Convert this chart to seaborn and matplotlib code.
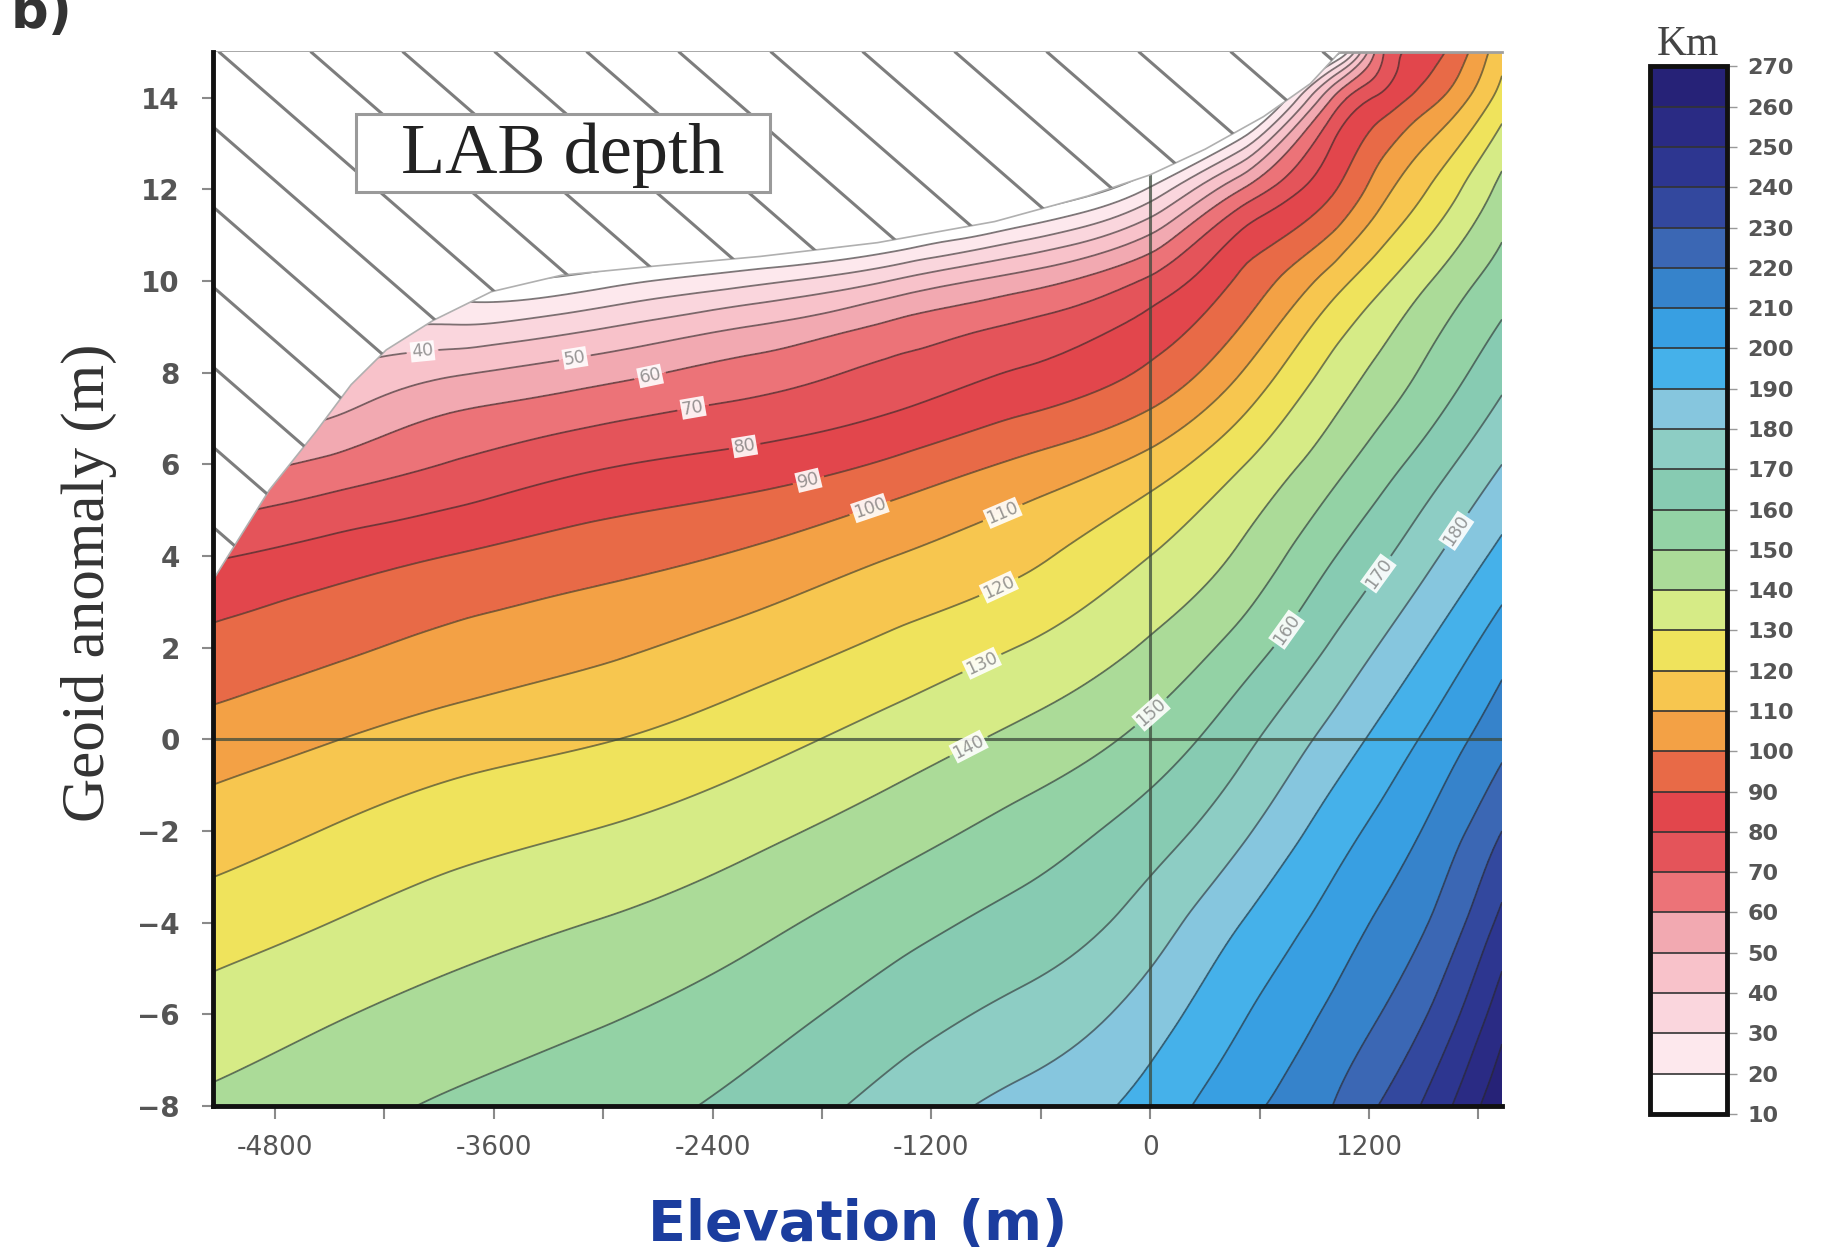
import numpy as np
import matplotlib
matplotlib.use("Agg")
import matplotlib.pyplot as plt
import matplotlib.tri as mtri
from matplotlib.colors import ListedColormap, BoundaryNorm
from matplotlib.patches import Polygon, Rectangle
from matplotlib.ticker import FixedLocator, MultipleLocator
import seaborn as sns

# ---------------- data ----------------
elevation = [-5140, -4500, -3800, -3000, -2200, -1400, -700, 0, 500, 1000, 1250, 1500, 1930]   # m
geoid = [-8, -6, -4, -2, 0, 2, 4, 6, 8, 10, 12, 14, 15]                                        # m
# LAB depth (km); one row per geoid value (values in the hatched "no solution" zone are below 10)
lab_row_m8 = [142, 146.5, 151.5, 156, 163, 174, 183, 194, 207, 220, 230, 241, 268]
lab_row_m6 = [134, 139, 144, 149, 155.5, 165, 173, 185, 199, 212, 219.6, 229, 256]
lab_row_m4 = [125, 130, 135.5, 140.5, 147, 156, 163.5, 175, 190, 204, 211.3, 219, 243]
lab_row_m2 = [115, 120.5, 126, 130.5, 137, 145.5, 154, 165, 178, 195, 202.6, 210.5, 230]
lab_row_0 = [104.5, 109.5, 115, 119.5, 126, 134.5, 142.5, 153.5, 167, 183.7, 192.4, 201, 217]
lab_row_2 = [93, 98, 103, 108, 114.5, 122.5, 130.5, 141.5, 154.3, 171.3, 180.3, 189.4, 206]
lab_row_4 = [79, 84.5, 90.5, 96, 101.5, 110, 117.5, 130, 141.8, 159.3, 167.6, 176.7, 193]
lab_row_6 = [54, 62.5, 71, 79, 84, 92, 102, 114, 129.3, 146.3, 155.2, 163.8, 180]
lab_row_8 = [29, 40, 49, 56.5, 64.5, 73, 81, 92, 110, 133.3, 142.5, 151.3, 167]
lab_row_10 = [5, 22, 12, 16, 27, 41, 55, 72, 92, 115, 127, 138.2, 155]
lab_row_12 = [-20, -8, -18, -30, -30, -25, -5, 21.7, 60, 88.8, 105, 118.9, 143]
lab_row_14 = [-45, -38, -48, -60, -65, -60, -45, -40, -17.5, 60, 81.3, 94.4, 124]
lab_row_15 = [-57, -52, -60, -72, -80, -75, -65, -70, -55, 0, 64, 84, 117]

levels = list(range(10, 280, 10))
band_colors = ['#ffffff', '#fde8ed', '#fad6dd', '#f8c2ca', '#f2a9b1',
               '#ec7378', '#e4545a', '#e2464c', '#e86a47', '#f3a145',
               '#f7c64f', '#efe35c', '#d6eb86', '#abdb98', '#93d2a5',
               '#87cbb2', '#8dcdc4', '#86c6de', '#45b1ea', '#389fe2',
               '#3683cb', '#3b67b4', '#33489e', '#2d3690', '#2a2b84', '#262277']

# limit of the solution domain (hatched region above it)
limit_elevation = [-5140, -4832, -4575, -4383, -4190, -3934, -3613, -3228, -2714,
                   -2137, -1495, -853, -340, 0, 302, 622, 879, 1040]
limit_geoid = [3.48, 5.44, 6.72, 7.74, 8.50, 9.14, 9.77, 10.13, 10.33,
               10.54, 10.84, 11.30, 11.86, 12.32, 12.88, 13.59, 14.31, 15.0]

# contour-label anchor positions (elevation, geoid)
label_points = [(-3998, 8.75), (-3164, 8.55), (-2746, 7.99), (-2509, 7.28), (-2227, 6.46),
                (-1880, 5.75), (-1527, 4.93), (-802, 4.88), (-840, 3.41), (-918, 1.62),
                (-995, -0.16), (13, 0.55), (750, 2.39), (1283, 3.53), (1680, 4.55)]

x_ticks = [-4800, -3600, -2400, -1200, 0, 1200]
x_tick_labels = ['-4800', '-3600', '-2400', '-1200', '0', '1200']
y_ticks = [-8, -6, -4, -2, 0, 2, 4, 6, 8, 10, 12, 14]
y_tick_labels = ['\u22128', '\u22126', '\u22124', '\u22122', '0', '2', '4', '6', '8', '10', '12', '14']

# ---------------- style ----------------
sns.set_theme(style="ticks")
plt.rcParams['font.family'] = ['DejaVu Sans']
serif = ['Liberation Serif', 'DejaVu Serif']

fig = plt.figure(figsize=(18.29, 12.53), dpi=100)
fig.patch.set_facecolor('white')
ax_pos = [0.1165, 0.1173, 0.7047, 0.8412]
ax = fig.add_axes(ax_pos)
ax.set_facecolor('white')

cmap = ListedColormap(sns.color_palette(band_colors))
norm = BoundaryNorm(levels, cmap.N)

# ---------------- field ----------------
lab_depth = np.array([lab_row_m8, lab_row_m6, lab_row_m4, lab_row_m2, lab_row_0, lab_row_2,
                      lab_row_4, lab_row_6, lab_row_8, lab_row_10, lab_row_12, lab_row_14,
                      lab_row_15], float)
E, G = np.meshgrid(np.array(elevation, float), np.array(geoid, float))
ny, nx = lab_depth.shape
tris = []
for j in range(ny - 1):
    for i in range(nx - 1):
        a = j * nx + i
        b, c = a + 1, a + nx
        tris.append([a, b, c + 1])
        tris.append([a, c + 1, c])
scale = 1000.0
tri_s = mtri.Triangulation(E.ravel() / scale, G.ravel(), tris)
interp = mtri.CubicTriInterpolator(tri_s, lab_depth.ravel(), kind='min_E')
tri_fs, z_f = mtri.UniformTriRefiner(tri_s).refine_field(lab_depth.ravel(), triinterpolator=interp, subdiv=4)
tri_f = mtri.Triangulation(tri_fs.x * scale, tri_fs.y, tri_fs.triangles)

cf = ax.tricontourf(tri_f, z_f, levels=levels, cmap=cmap, norm=norm, zorder=1)
cs = ax.tricontour(tri_f, z_f, levels=levels, colors='#2a2a2a', linewidths=1.3, alpha=0.6, zorder=2)

ax.axhline(0, color='#3c4a3c', lw=2.2, alpha=0.75, zorder=2.5)
ax.axvline(0, color='#3c4a3c', lw=2.2, alpha=0.75, zorder=2.5)

# hatched no-solution region
poly_pts = list(zip(limit_elevation, limit_geoid)) + [(limit_elevation[-1], 16), (-5400, 16), (-5400, limit_geoid[0])]
poly = Polygon(poly_pts, closed=True, facecolor='white', edgecolor='none', zorder=3)
ax.add_patch(poly)
ax.plot(limit_elevation, limit_geoid, color='#b0b0b0', lw=1.2, zorder=3.2)
W = ax_pos[2] * 1829
H = ax_pos[3] * 1253
sl = 0.87 * W / H
for k in range(-16, 16):
    x0 = (6 + 92 * k) / W
    ln, = ax.plot([x0, x0 + 2.0], [1.0, 1.0 - sl * 2.0], transform=ax.transAxes,
                  color='#7d7d7d', lw=2.2, zorder=3.5)
    ln.set_clip_path(poly)

# contour labels
texts = ax.clabel(cs, manual=label_points, inline=True, inline_spacing=5,
                  fontsize=12.5, fmt='%d', colors='#555555')
for t in texts:
    t.set_bbox(dict(facecolor='white', edgecolor='none', pad=0.8, alpha=0.9))
    t.set_zorder(6)

# title box
ax.add_patch(Rectangle((0.111, 0.867), 0.321, 0.074, transform=ax.transAxes,
                       facecolor='white', edgecolor='#9a9a9a', lw=2.2, zorder=6.5))
ax.text(0.2715, 0.902, 'LAB depth', transform=ax.transAxes, ha='center', va='center',
        fontsize=52, family=serif, color='#222222', zorder=7)

# ---------------- axes ----------------
ax.set_xlim(-5140, 1930)
ax.set_ylim(-8, 15)
ax.xaxis.set_major_locator(FixedLocator(x_ticks))
ax.set_xticklabels(x_tick_labels)
ax.xaxis.set_minor_locator(MultipleLocator(600))
ax.yaxis.set_major_locator(FixedLocator(y_ticks))
ax.set_yticklabels(y_tick_labels)
ax.tick_params(axis='x', which='both', direction='out', length=9, width=1.5, color='#8a8a8a',
               labelsize=19, labelcolor='#555555', pad=12)
ax.tick_params(axis='y', which='both', direction='out', length=8, width=1.5, color='#8a8a8a',
               labelsize=20, labelcolor='#555555', pad=16)
for lbl in ax.get_yticklabels():
    lbl.set_fontweight('bold')
for s in ['left', 'bottom']:
    ax.spines[s].set_color('#111111')
    ax.spines[s].set_linewidth(3.5)
    ax.spines[s].set_zorder(8)
ax.spines['top'].set_color('#a0a0a0')
ax.spines['top'].set_linewidth(2)
ax.spines['right'].set_visible(False)

ax.set_ylabel('Geoid anomaly (m)', fontsize=44, family=serif, color='#333333', va='center')
ax.yaxis.set_label_coords(-0.096, 0.496)
ax.set_xlabel('Elevation (m)', fontsize=40, fontweight='bold', color='#1b3d9e', va='center')
ax.xaxis.set_label_coords(0.5, -0.113)

fig.text(0.006, 0.978, 'b)', fontsize=38, fontweight='bold', color='#333333', va='baseline')

# ---------------- colorbar ----------------
cax = fig.add_axes([0.902, 0.111, 0.042, 0.836])
cb = fig.colorbar(cf, cax=cax, ticks=levels, drawedges=True)
cb.outline.set_linewidth(3.5)
cb.outline.set_edgecolor('#111111')
cb.dividers.set_color('#333333')
cb.dividers.set_linewidth(1.2)
cax.tick_params(labelsize=16, labelcolor='#555555', colors='#999999', length=7, width=1, pad=8)
for lbl in cax.get_yticklabels():
    lbl.set_fontweight('bold')
    lbl.set_color('#555555')
cax.set_title('Km', family=serif, fontsize=30, color='#444444', pad=8)

fig.savefig('out.png', dpi=100, facecolor='white')
